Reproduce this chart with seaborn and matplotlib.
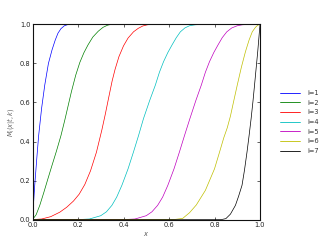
import matplotlib
matplotlib.use("Agg")
import matplotlib.pyplot as plt
import seaborn as sns
import pandas as pd

# ---- data ----
labels = ["i=1", "i=2", "i=3", "i=4", "i=5", "i=6", "i=7"]

x1 = [0.0, 0.005, 0.01, 0.02, 0.027, 0.04, 0.054, 0.07, 0.086, 0.1, 0.112, 0.125, 0.14, 0.155, 0.167, 1.0]
y1 = [0.0, 0.09, 0.18, 0.33, 0.43, 0.57, 0.69, 0.80, 0.87, 0.92, 0.955, 0.978, 0.993, 0.999, 1.0, 1.0]

x2 = [0.0, 0.016, 0.032, 0.05, 0.068, 0.085, 0.105, 0.125, 0.142, 0.157, 0.171, 0.19, 0.208, 0.226, 0.244, 0.265, 0.289, 0.31, 0.33, 0.345, 1.0]
y2 = [0.0, 0.025, 0.073, 0.14, 0.21, 0.275, 0.35, 0.43, 0.51, 0.585, 0.655, 0.74, 0.805, 0.855, 0.895, 0.935, 0.965, 0.985, 0.996, 1.0, 1.0]

x3 = [0.0, 0.04, 0.08, 0.12, 0.15, 0.18, 0.205, 0.23, 0.255, 0.281, 0.305, 0.32, 0.334, 0.35, 0.363, 0.38, 0.4, 0.42, 0.444, 0.465, 0.485, 0.505, 0.52, 1.0]
y3 = [0.0, 0.003, 0.015, 0.038, 0.063, 0.095, 0.13, 0.18, 0.25, 0.345, 0.46, 0.54, 0.62, 0.71, 0.77, 0.835, 0.89, 0.93, 0.962, 0.98, 0.992, 0.998, 1.0, 1.0]

x4 = [0.0, 0.2, 0.25, 0.3, 0.325, 0.349, 0.37, 0.393, 0.42, 0.444, 0.466, 0.488, 0.515, 0.54, 0.558, 0.576, 0.595, 0.613, 0.632, 0.65, 0.67, 0.69, 0.715, 0.74, 1.0]
y4 = [0.0, 0.0, 0.003, 0.02, 0.04, 0.073, 0.115, 0.176, 0.26, 0.347, 0.43, 0.518, 0.61, 0.689, 0.755, 0.809, 0.856, 0.894, 0.932, 0.962, 0.982, 0.993, 0.998, 1.0, 1.0]

x5 = [0.0, 0.4, 0.45, 0.5, 0.525, 0.55, 0.572, 0.595, 0.622, 0.646, 0.668, 0.692, 0.718, 0.742, 0.76, 0.778, 0.797, 0.815, 0.834, 0.854, 0.876, 0.9, 0.922, 0.945, 1.0]
y5 = [0.0, 0.0, 0.003, 0.02, 0.04, 0.073, 0.115, 0.176, 0.26, 0.347, 0.43, 0.518, 0.61, 0.689, 0.755, 0.809, 0.856, 0.894, 0.932, 0.962, 0.982, 0.993, 0.998, 1.0, 1.0]

x6 = [0.0, 0.62, 0.66, 0.69, 0.72, 0.76, 0.8, 0.822, 0.841, 0.856, 0.87, 0.885, 0.9, 0.918, 0.936, 0.952, 0.966, 0.98, 0.99, 1.0]
y6 = [0.0, 0.0, 0.006, 0.035, 0.075, 0.15, 0.26, 0.345, 0.42, 0.47, 0.53, 0.61, 0.689, 0.78, 0.86, 0.92, 0.962, 0.985, 0.996, 1.0]

x7 = [0.0, 0.83, 0.85, 0.87, 0.892, 0.906, 0.921, 0.932, 0.943, 0.952, 0.961, 0.969, 0.976, 0.983, 0.99, 0.995, 1.0]
y7 = [0.0, 0.0, 0.005, 0.028, 0.073, 0.12, 0.176, 0.255, 0.347, 0.43, 0.518, 0.605, 0.689, 0.775, 0.86, 0.93, 1.0]

xs = [x1, x2, x3, x4, x5, x6, x7]
ys = [y1, y2, y3, y4, y5, y6, y7]

colors = ["#0000ff", "#008000", "#ff0000", "#00bfbf", "#bf00bf", "#bfbf00", "#000000"]

# ---- build a long table ----
rows = []
for lab, xx, yy in zip(labels, xs, ys):
    for a, b in zip(xx, yy):
        rows.append((lab, a, b))
df = pd.DataFrame(rows, columns=["curve", "x", "y"])

sns.set_theme(style="white")
plt.rcParams["font.family"] = ["DejaVu Sans"]
plt.rcParams["mathtext.fontset"] = "dejavusans"

fig = plt.figure(figsize=(3.25, 2.44), dpi=100)
ax = fig.add_axes([0.1, 0.1, 0.7, 0.8])

sns.lineplot(data=df, x="x", y="y", hue="curve", hue_order=labels,
             palette=colors, sort=False, estimator=None, linewidth=0.5,
             ax=ax, legend=True)

ax.set_xlim(0, 1)
ax.set_ylim(0, 1)
ax.set_xticks([0.0, 0.2, 0.4, 0.6, 0.8, 1.0])
ax.set_yticks([0.0, 0.2, 0.4, 0.6, 0.8, 1.0])
ax.set_xticklabels(["0.0", "0.2", "0.4", "0.6", "0.8", "1.0"])
ax.set_yticklabels(["0.0", "0.2", "0.4", "0.6", "0.8", "1.0"])
ax.tick_params(direction="in", length=2.5, width=0.5, labelsize=4.8,
               top=True, right=True, bottom=True, left=True, pad=1.5,
               colors="#222222", labelcolor="#222222")
for s in ax.spines.values():
    s.set_color("#111111")
    s.set_linewidth(0.8)

ax.set_xlabel("$x$", fontsize=4.8, color="#555555", labelpad=2)
ax.set_ylabel("$M_i(x|t,k)$", fontsize=4.8, color="#666666", labelpad=2)

leg = ax.legend(loc="center left", bbox_to_anchor=(1.09, 0.5), frameon=False,
                fontsize=4.8, handlelength=3.0, handletextpad=1.0,
                borderpad=0, borderaxespad=0, labelspacing=0.55)
for line in leg.get_lines():
    line.set_linewidth(0.6)
for t in leg.get_texts():
    t.set_color("#333333")

fig.savefig("out.png", dpi=100)
